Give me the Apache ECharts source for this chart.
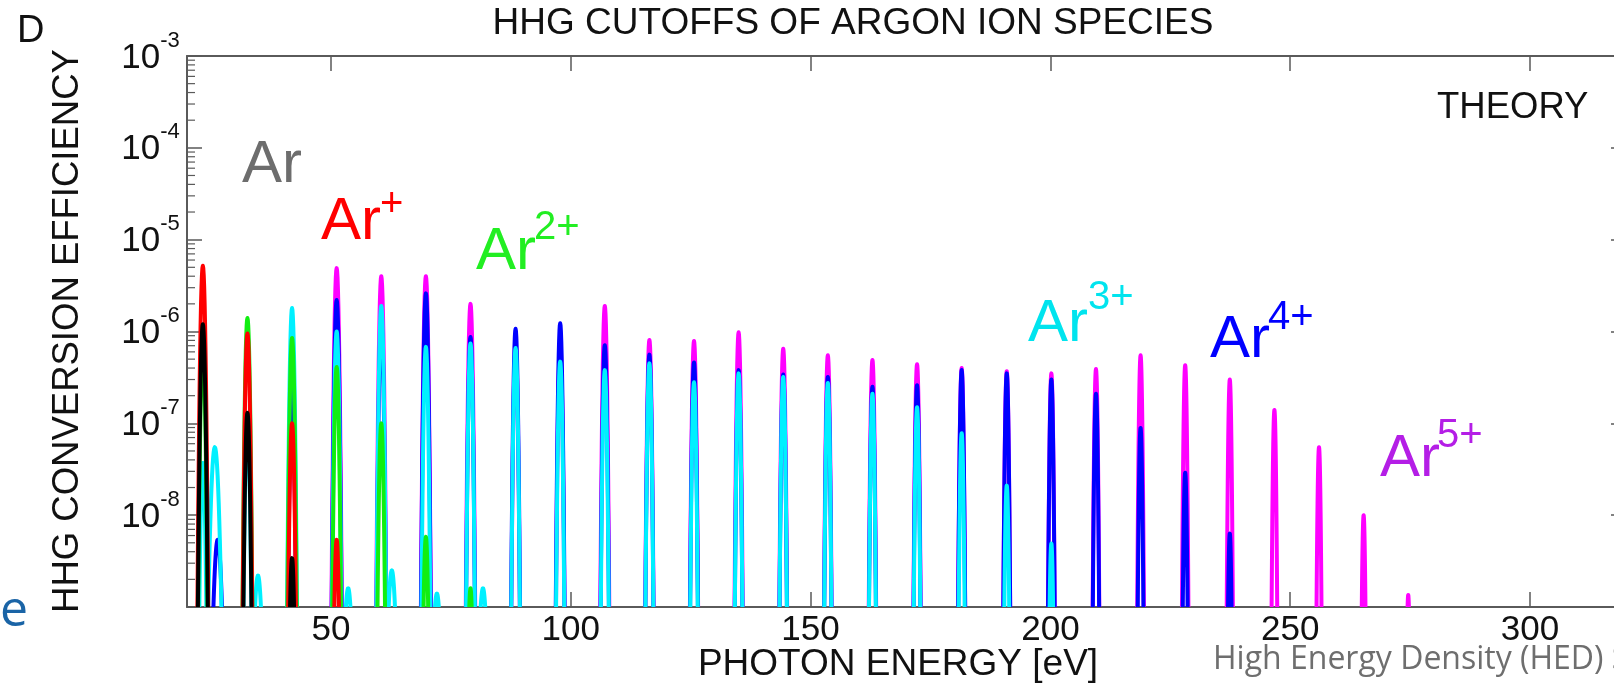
<!DOCTYPE html>
<html>
<head>
<meta charset="utf-8">
<script src="https://cdn.jsdelivr.net/npm/echarts@6/dist/echarts.min.js"></script>
<style>
    html, body { margin: 0; padding: 0; background: #fff; }
    #chart { width: 1614px; height: 685px; }
</style>
</head>
<body>
<div id="chart"></div>
<script>
    // photon energy of each odd harmonic (orders 5 ... 59), eV
    var harmonicEnergy = [23.3, 32.6, 41.9, 51.2, 60.5, 69.8, 79.1, 88.5, 97.8, 107.1, 116.4, 125.7, 135.0, 144.3,
        153.6, 162.9, 172.2, 181.5, 190.9, 200.2, 209.5, 218.8, 228.1, 237.4, 246.7, 256.0, 265.3, 274.6]

    // peak conversion efficiency per harmonic, null = nothing above 1e-9
    var arPeaks = [1.2e-6, 1.3e-7, 3.4e-9, null, null, null, null, null, null, null, null, null, null, null,
        null, null, null, null, null, null, null, null, null, null, null, null, null, null]
    var ar1Peaks = [5.2e-6, 9.5e-7, 1.0e-7, 5.4e-9, null, null, null, null, null, null, null, null, null, null,
        null, null, null, null, null, null, null, null, null, null, null, null, null, null]
    var ar2Peaks = [6.3e-7, 1.4e-6, 8.5e-7, 4.1e-7, 1.0e-7, 5.8e-9, 1.6e-9, null, null, null, null, null, null, null,
        null, null, null, null, null, null, null, null, null, null, null, null, null, null]
    var ar3Peaks = [3.7e-8, 1.0e-7, 1.8e-6, 1.0e-6, 1.9e-6, 6.8e-7, 7.4e-7, 6.6e-7, 4.7e-7, 3.8e-7, 4.5e-7, 2.8e-7, 3.5e-7, 3.2e-7,
        2.75e-7, 2.1e-7, 1.5e-7, 7.8e-8, 2.1e-8, 4.9e-9, null, null, null, null, null, null, null, null]
    var ar4Peaks = [null, null, 2.5e-7, 2.2e-6, 1.3e-6, 2.6e-6, 8.7e-7, 1.07e-6, 1.23e-6, 7.1e-7, 5.6e-7, 4.6e-7, 3.8e-7, 3.4e-7,
        3.2e-7, 2.5e-7, 2.6e-7, 3.8e-7, 3.5e-7, 3.0e-7, 2.1e-7, 8.9e-8, 2.9e-8, 6.3e-9, null, null, null, null]
    var ar5Peaks = [null, null, 1.6e-7, 4.9e-6, 4.0e-6, 4.0e-6, 2.0e-6, 6.3e-7, 7.0e-7, 1.9e-6, 8.1e-7, 7.9e-7, 9.8e-7, 6.5e-7,
        5.5e-7, 4.9e-7, 4.4e-7, 4.0e-7, 3.7e-7, 3.5e-7, 3.9e-7, 5.5e-7, 4.3e-7, 3.0e-7, 1.4e-7, 5.5e-8, 1.0e-8, 1.35e-9]

    // small side bumps next to the low harmonics
    var ar3SideEnergy = [25.8, 34.8, 53.6, 62.7, 72.1, 81.7]
    var ar3SidePeaks = [5.5e-8, 2.2e-9, 1.6e-9, 2.5e-9, 1.4e-9, 1.6e-9]
    var ar4SideEnergy = [26.4]
    var ar4SidePeaks = [5.4e-9]

    var xTicks = [50, 100, 150, 200, 250, 300]
    var yTicks = [1e-9, 1e-8, 1e-7, 1e-6, 1e-5, 1e-4, 1e-3]
    var yLabels = [1e-8, 1e-7, 1e-6, 1e-5, 1e-4, 1e-3]

    var X_MIN = 20, X_MAX = 320, Y_MIN = 1e-9, Y_MAX = 1e-3
    var FONT = '"Liberation Sans", Arial, Helvetica, sans-serif'
    var AXIS = '#5a5a5a'

    function pairs(energy, peaks) {
        var out = []
        for (var i = 0; i < energy.length; i++) {
            if (peaks[i] != null) out.push([energy[i], peaks[i]])
        }
        return out
    }

    // minor log ticks 2..9 x 10^n on the left axis
    var minorTicks = []
    for (var p = -9; p < -3; p++) {
        for (var m = 2; m <= 9; m++) minorTicks.push([X_MIN, m * Math.pow(10, p)])
    }

    function narrow(e) { return 2.9 - 0.004 * e }
    function wide() { return 5 }

    // one harmonic drawn as a thick outline, tip at the peak value, feet on the axis floor
    function spike(color, width) {
        return function (params, api) {
            var e = api.value(0)
            var tip = api.coord([e, api.value(1)])
            var base = api.coord([e, Y_MIN])
            var decade = api.coord([e, 1e-9])[1] - api.coord([e, 1e-8])[1]
            var depth = base[1] - tip[1] + 4
            var full = width(e) * Math.sqrt(depth / decade)
            var left = [], right = []
            for (var i = 0; i <= 12; i++) {
                var t = i / 12
                var d = depth * t * t
                left.unshift([tip[0] - full * t, tip[1] + d])
                right.push([tip[0] + full * t, tip[1] + d])
            }
            return {
                type: 'polyline',
                shape: {points: left.concat(right.slice(1))},
                style: {fill: null, stroke: color, lineWidth: 4, lineJoin: 'round'}
            }
        }
    }

    function peakSeries(name, color, data, width) {
        return {
            name: name,
            type: 'custom',
            clip: true,
            silent: true,
            data: data,
            renderItem: spike(color, width || narrow)
        }
    }

    function text(str, x, y, size, color, extra) {
        var o = {
            type: 'text',
            x: x,
            y: y,
            silent: true,
            style: {
                text: str,
                fontSize: size,
                fontFamily: FONT,
                fill: color,
                align: 'left',
                textAlign: 'left',
                verticalAlign: 'middle',
                textVerticalAlign: 'middle'
            }
        }
        if (extra) {
            for (var k in extra) {
                if (k === 'rotation') o.rotation = extra[k]
                else o.style[k] = extra[k]
            }
        }
        return o
    }

    var axisLineStyle = {color: AXIS, width: 2}
    var tickStyle = {color: AXIS, width: 1.5}

    var chart = echarts.init(document.getElementById('chart'))
    chart.setOption({
        animation: false,
        grid: {left: 187, top: 56, right: -12, bottom: 78, outerBoundsMode: 'none'},
        xAxis: [
            {
                type: 'value', min: X_MIN, max: X_MAX, position: 'bottom',
                axisLine: {show: true, onZero: false, lineStyle: axisLineStyle},
                axisTick: {show: true, inside: true, length: 15, customValues: xTicks, lineStyle: tickStyle},
                axisLabel: {customValues: xTicks, margin: 6, fontSize: 35, lineHeight: 35, color: '#111', fontFamily: FONT},
                splitLine: {show: false}
            },
            {
                type: 'value', min: X_MIN, max: X_MAX, position: 'top',
                axisLine: {show: true, onZero: false, lineStyle: axisLineStyle},
                axisTick: {show: true, inside: true, length: 15, customValues: xTicks, lineStyle: tickStyle},
                axisLabel: {show: false},
                splitLine: {show: false}
            }
        ],
        yAxis: [
            {
                type: 'log', logBase: 10, min: Y_MIN, max: Y_MAX, position: 'left',
                axisLine: {show: true, onZero: false, lineStyle: axisLineStyle},
                axisTick: {show: true, inside: true, length: 15, customValues: yTicks, lineStyle: tickStyle},
                axisLabel: {
                    customValues: yLabels,
                    margin: 7,
                    padding: [0, 0, 7, 0],
                    color: '#111',
                    formatter: function (v) {
                        return '{b|10}{s|' + Math.round(Math.log10(v)) + '}{h| }'
                    },
                    rich: {
                        b: {fontSize: 35, lineHeight: 35, verticalAlign: 'bottom', fontFamily: FONT, color: '#111'},
                        s: {fontSize: 22, lineHeight: 22, verticalAlign: 'top', fontFamily: FONT, color: '#111'},
                        h: {fontSize: 1, lineHeight: 46}
                    }
                },
                splitLine: {show: false}
            },
            {
                type: 'log', logBase: 10, min: Y_MIN, max: Y_MAX, position: 'right',
                axisLine: {show: true, onZero: false, lineStyle: axisLineStyle},
                axisTick: {show: true, inside: true, length: 15, customValues: yTicks, lineStyle: tickStyle},
                axisLabel: {show: false},
                splitLine: {show: false}
            }
        ],
        series: [
            {
                type: 'custom',
                silent: true,
                data: minorTicks,
                renderItem: function (params, api) {
                    var pt = api.coord([api.value(0), api.value(1)])
                    return {
                        type: 'line',
                        shape: {x1: pt[0], y1: pt[1], x2: pt[0] + 8, y2: pt[1]},
                        style: {stroke: AXIS, lineWidth: 1.2}
                    }
                }
            },
            peakSeries('Ar5+', '#ff00ff', pairs(harmonicEnergy, ar5Peaks)),
            peakSeries('Ar4+', '#0000ff', pairs(harmonicEnergy, ar4Peaks)),
            peakSeries('Ar4+ side', '#0000ff', pairs(ar4SideEnergy, ar4SidePeaks), wide),
            peakSeries('Ar3+', '#00f0ff', pairs(harmonicEnergy, ar3Peaks)),
            peakSeries('Ar3+ side', '#00f0ff', pairs(ar3SideEnergy, ar3SidePeaks), wide),
            peakSeries('Ar2+', '#11ee11', pairs(harmonicEnergy, ar2Peaks)),
            peakSeries('Ar+', '#ff0000', pairs(harmonicEnergy, ar1Peaks)),
            peakSeries('Ar', '#000000', pairs(harmonicEnergy, arPeaks))
        ],
        graphic: [
            text('HHG CUTOFFS OF ARGON ION SPECIES', 853, 24, 37, '#111', {align: 'center', textAlign: 'center'}),
            text('D', 17, 32, 38, '#111'),
            text('HHG CONVERSION EFFICIENCY', 68, 331, 36.5, '#111', {align: 'center', textAlign: 'center', rotation: Math.PI / 2}),
            text('PHOTON ENERGY [eV]', 898, 665, 37, '#111', {align: 'center', textAlign: 'center'}),
            text('THEORY', 1437, 108, 36.5, '#111'),

            text('Ar', 242, 165, 60, '#6d6d6d'),
            text('Ar', 321, 222, 60, '#ff0000'),
            text('+', 380, 205, 40, '#ff0000'),
            text('Ar', 476, 252, 60, '#22ee22'),
            text('2+', 534, 228, 40, '#22ee22'),
            text('Ar', 1028, 324, 60, '#00e4ee'),
            text('3+', 1088, 298, 40, '#00e4ee'),
            text('Ar', 1210, 340, 60, '#0000ff'),
            text('4+', 1268, 318, 40, '#0000ff'),
            text('Ar', 1380, 459, 60, '#b41ee6'),
            text('5+', 1437, 436, 40, '#b41ee6'),

            text('e', 0, 612, 50, '#1a64a6', {fontFamily: '"Open Sans", sans-serif'}),
            text('High Energy Density (HED) S', 1213, 660, 32, '#6e6e6e', {fontFamily: '"Open Sans", sans-serif'})
        ]
    })
</script>
</body>
</html>
